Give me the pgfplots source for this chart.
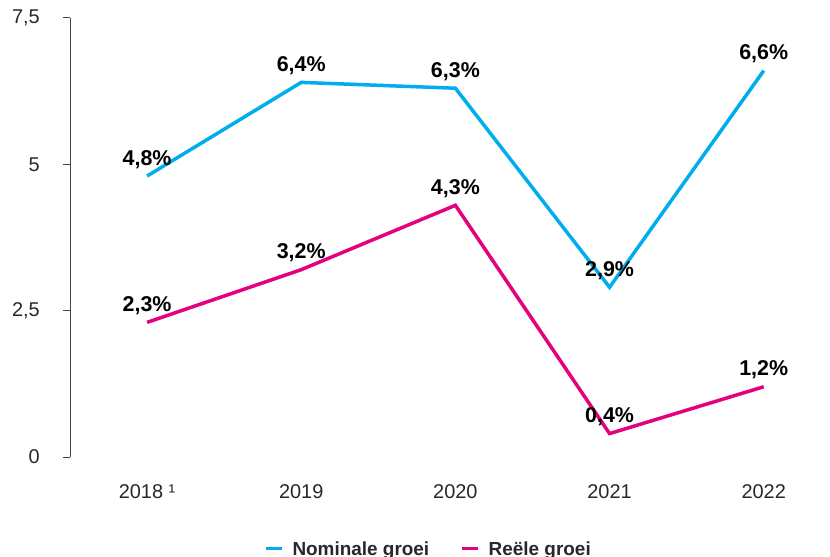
\documentclass[border=0pt]{standalone}
\usepackage{pgfplots}
\pgfplotsset{compat=1.18}
\usepackage{fontspec}
\setmainfont{Liberation Sans}
\definecolor{nomcol}{RGB}{0,174,239}
\definecolor{reelcol}{RGB}{229,0,125}
\definecolor{axgray}{RGB}{70,70,70}
\definecolor{txtgray}{RGB}{40,40,40}
\begin{document}
\begin{tikzpicture}
\useasboundingbox (0,0) rectangle (830bp,557bp);
\begin{axis}[
  at={(70bp,100bp)}, anchor=south west,
  scale only axis,
  width=760bp, height=439bp,
  xmin=-0.5, xmax=4.43,
  ymin=0, ymax=7.5,
  clip=false,
  axis y line*=left,
  axis x line*=bottom,
  x axis line style={draw=none},
  y axis line style={draw=axgray, line width=1bp},
  xtick={0,1,2,3,4},
  xticklabels={2018 ¹,2019,2020,2021,2022},
  xtick style={draw=none},
  ytick={0,2.5,5,7.5},
  yticklabels={0,{2,5},5,{7,5}},
  ytick style={draw=axgray, line width=1bp},
  tick align=outside,
  major tick length=7bp,
  yticklabel style={font=\fontsize{20}{22}\selectfont, text=txtgray, inner sep=0pt, xshift=-23bp},
  xticklabel style={font=\fontsize{20}{22}\selectfont, text=txtgray, inner sep=0pt, anchor=north, yshift=-20bp},
  /pgf/number format/assume math mode=true,
  /pgf/number format/use comma,
  nodes near coords={\pgfmathprintnumber[fixed,precision=1,fixed zerofill]{\pgfplotspointmeta}\%},
  every node near coord/.append style={font=\bfseries\fontsize{21.5}{23}\selectfont, text=black, anchor=base, inner sep=0pt, yshift=11bp},
  legend columns=2,
  legend image code/.code={\draw[line width=3.5bp] (0bp,0bp) -- (16bp,0bp);},
  legend style={at={(axis description cs:0.255,-0.208)}, anchor=west, draw=none, fill=none, inner sep=0pt,
    font=\bfseries\fontsize{19}{21}\selectfont, text=txtgray,
    /tikz/every even column/.append style={column sep=31bp},
    nodes={inner sep=0pt, text depth=0pt}},
  legend cell align=left,
]
\addplot[nomcol, line width=3.5bp, line join=miter] coordinates {(0,4.8) (1,6.4) (2,6.3) (3,2.9) (4,6.6)};
\addlegendentry{\hspace{9bp}Nominale groei}
\addplot[reelcol, line width=3.5bp, line join=miter] coordinates {(0,2.3) (1,3.2) (2,4.3) (3,0.4) (4,1.2)};
\addlegendentry{\hspace{9bp}Reële groei}
\end{axis}
\end{tikzpicture}
\end{document}
